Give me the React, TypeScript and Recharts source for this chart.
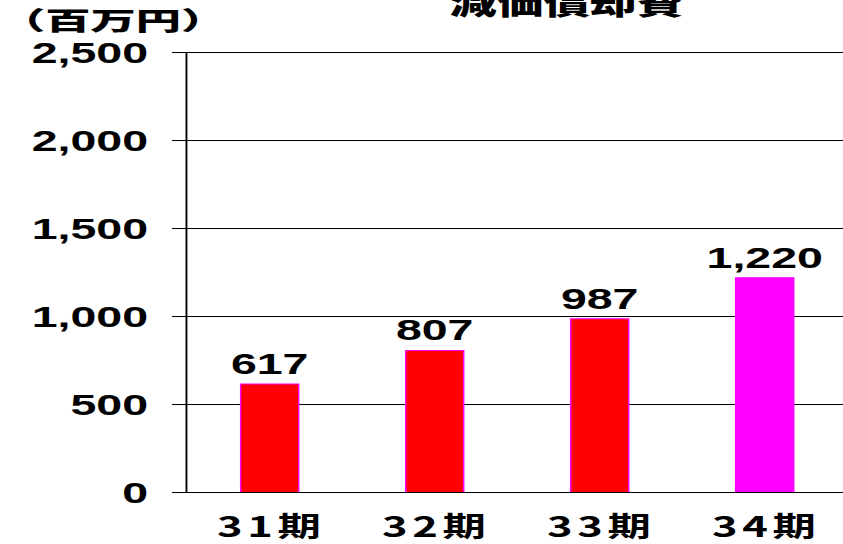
import React from 'react';
import { BarChart, Bar, XAxis, YAxis, CartesianGrid, Cell, LabelList } from 'recharts';

// 減価償却費（百万円）
const categories = ['31期', '32期', '33期', '34期'];
const values = [617, 807, 987, 1220];
const barColors = ['#FF0000', '#FF0000', '#FF0000', '#FF00FF'];
const yTicks = [0, 500, 1000, 1500, 2000, 2500];

const chartData = categories.map((name, i) => ({ name, value: values[i] }));

// the source chart is stretched horizontally, so the whole thing is scaled on x
const SX = 1.55;
const W = 560;
const H = 560;

const fmt = (v: any) => String(v).replace(/\B(?=(\d{3})+(?!\d))/g, ',');

const numFont = '"Liberation Sans", Arial, sans-serif';
const jpFont = '"Noto Sans CJK JP", "Noto Sans", sans-serif';

const XTick = ({ x, y, payload }: any) => (
  <text
    x={x + 1.5}
    y={y + 44.5}
    textAnchor="middle"
    fontSize={28}
    fontWeight="bold"
    fontFamily={jpFont}
    letterSpacing={3}
    fill="#000"
  >
    {payload.value}
  </text>
);

export default function App() {
  return (
    <div
      style={{
        position: 'absolute',
        left: 0,
        top: 0,
        width: 843,
        height: 544,
        overflow: 'hidden',
        background: '#fff',
      }}
    >
      <div
        style={{
          position: 'absolute',
          left: 0,
          top: 0,
          width: W,
          height: H,
          transform: `scaleX(${SX})`,
          transformOrigin: '0 0',
        }}
      >
        <BarChart
          width={W}
          height={H}
          data={chartData}
          margin={{ top: 52.5, right: 13.9, left: 0, bottom: 0 }}
        >
          <CartesianGrid vertical={false} stroke="#000" strokeWidth={1} />
          <XAxis
            dataKey="name"
            height={67.5}
            axisLine={{ stroke: '#000', strokeWidth: 1 }}
            tickLine={false}
            tickSize={0}
            tickMargin={0}
            tick={<XTick />}
            interval={0}
          />
          <YAxis
            width={120.3}
            domain={[0, 2500]}
            ticks={yTicks}
            interval={0}
            tickFormatter={fmt}
            tickSize={9.4}
            tickMargin={15.4}
            axisLine={{ stroke: '#000', strokeWidth: 1.2 }}
            tickLine={{ stroke: '#000', strokeWidth: 1 }}
            tick={{ fill: '#000', fontSize: 30, fontWeight: 'bold', fontFamily: numFont }}
          />
          <Bar dataKey="value" barSize={37.4} isAnimationActive={false}>
            {chartData.map((d, i) => (
              <Cell key={d.name} fill={barColors[i]} stroke="#FF00FF" strokeWidth={1} />
            ))}
            <LabelList
              dataKey="value"
              position="top"
              offset={10}
              formatter={fmt}
              fill="#000"
              fontSize={30}
              fontWeight="bold"
              fontFamily={numFont}
            />
          </Bar>
        </BarChart>
        <svg
          width={W}
          height={60}
          style={{ position: 'absolute', left: 0, top: 0, overflow: 'visible' }}
        >
          <text
            x={365.6}
            y={14}
            textAnchor="middle"
            fontSize={30}
            fontWeight={900}
            fontFamily={jpFont}
            textLength={151}
            lengthAdjust="spacingAndGlyphs"
            fill="#000"
          >
            減価償却費
          </text>
          <text
            x={0}
            y={30}
            fontSize={25}
            fontWeight={900}
            fontFamily={jpFont}
            textLength={146}
            lengthAdjust="spacingAndGlyphs"
            fill="#000"
          >
            （百万円）
          </text>
        </svg>
      </div>
    </div>
  );
}
